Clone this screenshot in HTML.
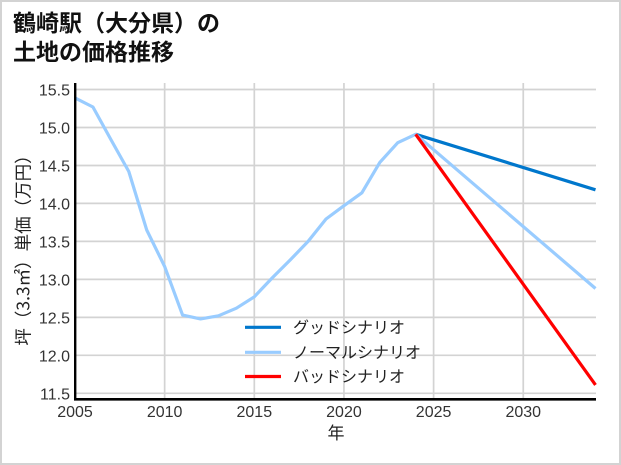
<!DOCTYPE html>
<html><head><meta charset="utf-8">
<style>
html,body{margin:0;padding:0;background:#fff;}
svg{display:block;}
text{font-family:"Liberation Sans","Noto Sans CJK JP",sans-serif;}
.cjk{font-family:"Noto Sans CJK JP","Liberation Sans",sans-serif;}
</style></head>
<body>
<svg width="621" height="465" viewBox="0 0 621 465" xmlns="http://www.w3.org/2000/svg">
<rect x="1" y="1" width="619" height="463" fill="#fff" stroke="#d3d3d3" stroke-width="2"/>
<text class="cjk" x="13" y="31" font-size="23" font-weight="bold" fill="#111">鶴崎駅（大分県）の</text>
<text class="cjk" x="13" y="60" font-size="23" font-weight="bold" fill="#111">土地の価格推移</text>
<g stroke="#d3d3d3" stroke-width="1.7">
<line x1="75" y1="89.5" x2="596" y2="89.5"/>
<line x1="75" y1="127.5" x2="596" y2="127.5"/>
<line x1="75" y1="165.5" x2="596" y2="165.5"/>
<line x1="75" y1="203.4" x2="596" y2="203.4"/>
<line x1="75" y1="241.4" x2="596" y2="241.4"/>
<line x1="75" y1="279.4" x2="596" y2="279.4"/>
<line x1="75" y1="317.4" x2="596" y2="317.4"/>
<line x1="75" y1="355.3" x2="596" y2="355.3"/>
<line x1="75" y1="393.3" x2="596" y2="393.3"/>
<line x1="164.65" y1="83" x2="164.65" y2="399"/>
<line x1="254.3" y1="83" x2="254.3" y2="399"/>
<line x1="343.95" y1="83" x2="343.95" y2="399"/>
<line x1="433.6" y1="83" x2="433.6" y2="399"/>
<line x1="523.25" y1="83" x2="523.25" y2="399"/>
</g>
<g fill="none" stroke-width="3.2" stroke-linejoin="round">
<polyline stroke="#0077cc" points="415.67,134.3 595.5,189.8"/>
<polyline stroke="#99ccff" points="75,97.9 92.93,107 110.86,139.5 128.79,171.5 146.72,230 164.65,266.5 182.58,315.1 200.51,318.9 218.44,315.8 236.37,308.2 254.3,296.8 272.23,277.9 290.16,260 308.09,241.4 326.02,219 343.95,205.7 361.88,192.8 379.81,162.4 397.74,142.7 415.67,134.3 595.5,288.5"/>
<polyline stroke="#ff0000" points="415.67,134.3 595.5,384.9"/>
</g>
<line x1="75.2" y1="83" x2="75.2" y2="400.5" stroke="#000" stroke-width="2.4"/>
<line x1="74" y1="399.3" x2="596" y2="399.3" stroke="#000" stroke-width="2.6"/>
<g font-size="16" fill="#333" text-anchor="end">
<text x="70" y="95.5">15.5</text>
<text x="70" y="133.5">15.0</text>
<text x="70" y="171.5">14.5</text>
<text x="70" y="209.4">14.0</text>
<text x="70" y="247.4">13.5</text>
<text x="70" y="285.4">13.0</text>
<text x="70" y="323.4">12.5</text>
<text x="70" y="361.3">12.0</text>
<text x="70" y="399.3">11.5</text>
</g>
<g font-size="16" fill="#333" text-anchor="middle">
<text x="75" y="417">2005</text>
<text x="164.65" y="417">2010</text>
<text x="254.3" y="417">2015</text>
<text x="343.95" y="417">2020</text>
<text x="433.6" y="417">2025</text>
<text x="523.25" y="417">2030</text>
</g>
<text class="cjk" x="336" y="439" font-size="17" fill="#222" text-anchor="middle">年</text>
<text class="cjk" transform="translate(23,246) rotate(-90)" x="0" y="0" font-size="17.5" fill="#222" text-anchor="middle" dominant-baseline="central">坪（3.3㎡）単価（万円）</text>
<g stroke-width="3.2">
<line x1="245" y1="327.3" x2="281" y2="327.3" stroke="#0077cc"/>
<line x1="245" y1="352.3" x2="281" y2="352.3" stroke="#99ccff"/>
<line x1="245" y1="376.5" x2="281" y2="376.5" stroke="#ff0000"/>
</g>
<g class="cjk" font-size="16" fill="#222">
<text x="293" y="333">グッドシナリオ</text>
<text x="293" y="358">ノーマルシナリオ</text>
<text x="293" y="382">バッドシナリオ</text>
</g>
</svg>
</body></html>
